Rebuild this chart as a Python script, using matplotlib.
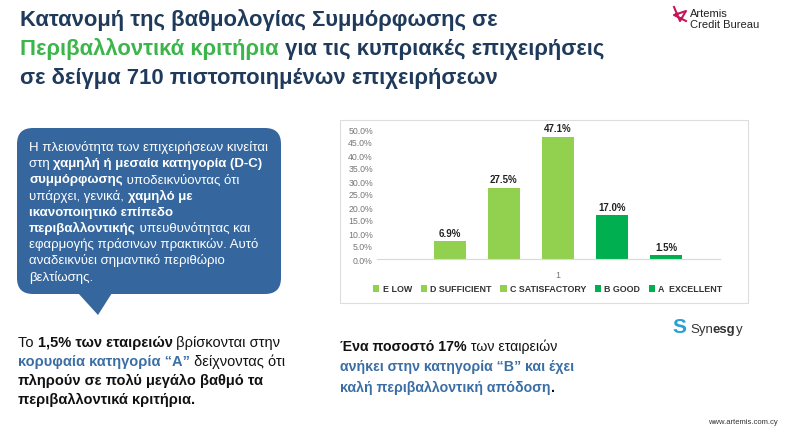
import matplotlib
matplotlib.use('Agg')
import matplotlib.pyplot as plt
from matplotlib.patches import FancyBboxPatch, Polygon, Rectangle
from matplotlib.ticker import PercentFormatter

plt.rcParams['font.family'] = 'Liberation Sans'

# data
categories = ['E LOW', 'D SUFFICIENT', 'C SATISFACTORY', 'B GOOD', 'A  EXCELLENT']
shares = [0.069, 0.275, 0.471, 0.170, 0.015]
bar_colors = ['#92d050', '#92d050', '#92d050', '#00b050', '#00b050']
value_labels = ['6.9%', '27.5%', '47.1%', '17.0%', '1.5%']

NAVY = '#1f3a5a'
BLUE = '#3a6ea5'
GREEN = '#3cb54a'

W, H = 800, 435
fig = plt.figure(figsize=(8, 4.35), dpi=100)
bg = fig.add_axes([0, 0, 1, 1])
bg.set_xlim(0, W)
bg.set_ylim(H, 0)
bg.axis('off')
fig.canvas.draw()
renderer = fig.canvas.get_renderer()


def rich_line(x, y, runs, size, **kw):
    # runs: list of (text, color, weight, style)
    for txt, color, weight, style in runs:
        t = bg.text(x, y, txt, color=color, fontsize=size, fontweight=weight,
                    fontstyle=style, va='baseline', ha='left', **kw)
        x += t.get_window_extent(renderer).width


# title
rich_line(20, 26, [('Κατανομή της βαθμολογίας Συμμόρφωσης σε', NAVY, 'bold', 'normal')], 15.8)
rich_line(20, 55, [('Περιβαλλοντικά κριτήρια', GREEN, 'bold', 'normal'),
                   (' για τις κυπριακές επιχειρήσεις', NAVY, 'bold', 'normal')], 15.8)
rich_line(20, 84, [('σε δείγμα 710 πιστοποιημένων επιχειρήσεων', NAVY, 'bold', 'normal')], 15.8)

# logo text
bg.plot([674, 680, 686, 674, 686], [8, 22, 12, 16, 22], color='#c2185b', lw=1.5)
bg.text(690, 14, 'Artemis', fontsize=8, color='#222222', va='center')
bg.text(690, 25, 'Credit Bureau', fontsize=8, color='#222222', va='center')

# speech bubble
bg.add_patch(FancyBboxPatch((17, 129), 264, 166, boxstyle='round,pad=0,rounding_size=16',
                            fc='#35679e', ec='none'))
bg.add_patch(Polygon([[78, 294], [112, 294], [98, 316]], closed=True, fc='#35679e', ec='none'))
WH = 'white'
bubble = [
    [('Η πλειονότητα των επιχειρήσεων κινείται', WH, 'normal', 'normal')],
    [('στη ', WH, 'normal', 'normal'), ('χαμηλή ή μεσαία κατηγορία (D-C)', WH, 'bold', 'normal')],
    [('συμμόρφωσης', WH, 'bold', 'normal'), (' υποδεικνύοντας ότι', WH, 'normal', 'normal')],
    [('υπάρχει, γενικά, ', WH, 'normal', 'normal'), ('χαμηλό με', WH, 'bold', 'normal')],
    [('ικανοποιητικό επίπεδο', WH, 'bold', 'normal')],
    [('περιβαλλοντικής', WH, 'bold', 'normal'), (' υπευθυνότητας και', WH, 'normal', 'normal')],
    [('εφαρμογής πράσινων πρακτικών. Αυτό', WH, 'normal', 'normal')],
    [('αναδεικνύει σημαντικό περιθώριο', WH, 'normal', 'normal')],
    [('βελτίωσης.', WH, 'normal', 'normal')],
]
for i, runs in enumerate(bubble):
    rich_line(29, 151 + i * 16.2, runs, 9.5)

# bottom-left text
K = '#111111'
bl = [
    [('Το ', K, 'normal', 'normal'), ('1,5% των εταιρειών', K, 'bold', 'normal'),
     (' βρίσκονται στην', K, 'normal', 'normal')],
    [('κορυφαία κατηγορία “Α”', BLUE, 'bold', 'normal'), (' δείχνοντας ότι', K, 'normal', 'normal')],
    [('πληρούν σε πολύ μεγάλο βαθμό τα', K, 'bold', 'normal')],
    [('περιβαλλοντικά κριτήρια.', K, 'bold', 'normal')],
]
for i, runs in enumerate(bl):
    rich_line(18, 347 + i * 19, runs, 10.5)

bm = [
    [('Ένα ποσοστό 17%', K, 'bold', 'normal'), (' των εταιρειών', K, 'normal', 'normal')],
    [('ανήκει στην κατηγορία “Β” και έχει', BLUE, 'bold', 'normal')],
    [('καλή περιβαλλοντική απόδοση', BLUE, 'bold', 'normal'), ('.', K, 'bold', 'normal')],
]
for i, runs in enumerate(bm):
    rich_line(340, 351 + i * 20.5, runs, 10.2)

# Synesgy logo
bg.text(672, 328, 'S', fontsize=15, fontweight='bold', color='#2a9fd6', va='center')
rich_line(690, 333, [('Syn', '#333333', 'normal', 'normal'), ('esg', '#333333', 'bold', 'normal'),
                     ('y', '#333333', 'normal', 'normal')], 9.5)
bg.text(778, 423, 'www.artemis.com.cy', fontsize=5.5, color='#333333', ha='right', va='center')

# chart frame
bg.add_patch(Rectangle((340, 121), 408, 183, fc='white', ec='#dddddd', lw=0.8))

# chart
ax = fig.add_axes([377 / W, 1 - 260 / H, 343 / W, 130 / H])
ax.set_facecolor('none')
for i, (cat, v, c, lab) in enumerate(zip(categories, shares, bar_colors, value_labels)):
    x = (i - 2) * 1.0
    ax.bar(x, v, width=0.6, color=c, label=cat)
    ax.text(x, v + 0.012, lab, ha='center', va='bottom', fontsize=7, fontweight='bold', color='#222222')
ax.set_xlim(-3.35, 3.0)
ax.set_ylim(0, 0.5)
ax.set_yticks([i * 0.05 for i in range(11)])
ax.yaxis.set_major_formatter(PercentFormatter(1.0, decimals=1))
ax.set_xticks([0])
ax.set_xticklabels(['1'])
ax.tick_params(axis='both', length=0, labelsize=6.3, labelcolor='#777777', pad=3)
ax.tick_params(axis='x', pad=8)
for s in ['top', 'right', 'left']:
    ax.spines[s].set_visible(False)
ax.spines['bottom'].set_color('#d9d9d9')
leg = ax.legend(loc='center', bbox_to_anchor=(548 / W, 1 - 290 / H), bbox_transform=fig.transFigure,
                ncol=5, frameon=False, handlelength=0.7, handleheight=0.7,
                handletextpad=0.35, columnspacing=1.0, prop={'weight': 'bold', 'size': 6.4})
for t in leg.get_texts():
    t.set_color('#333333')

fig.savefig('out.png', dpi=100)
